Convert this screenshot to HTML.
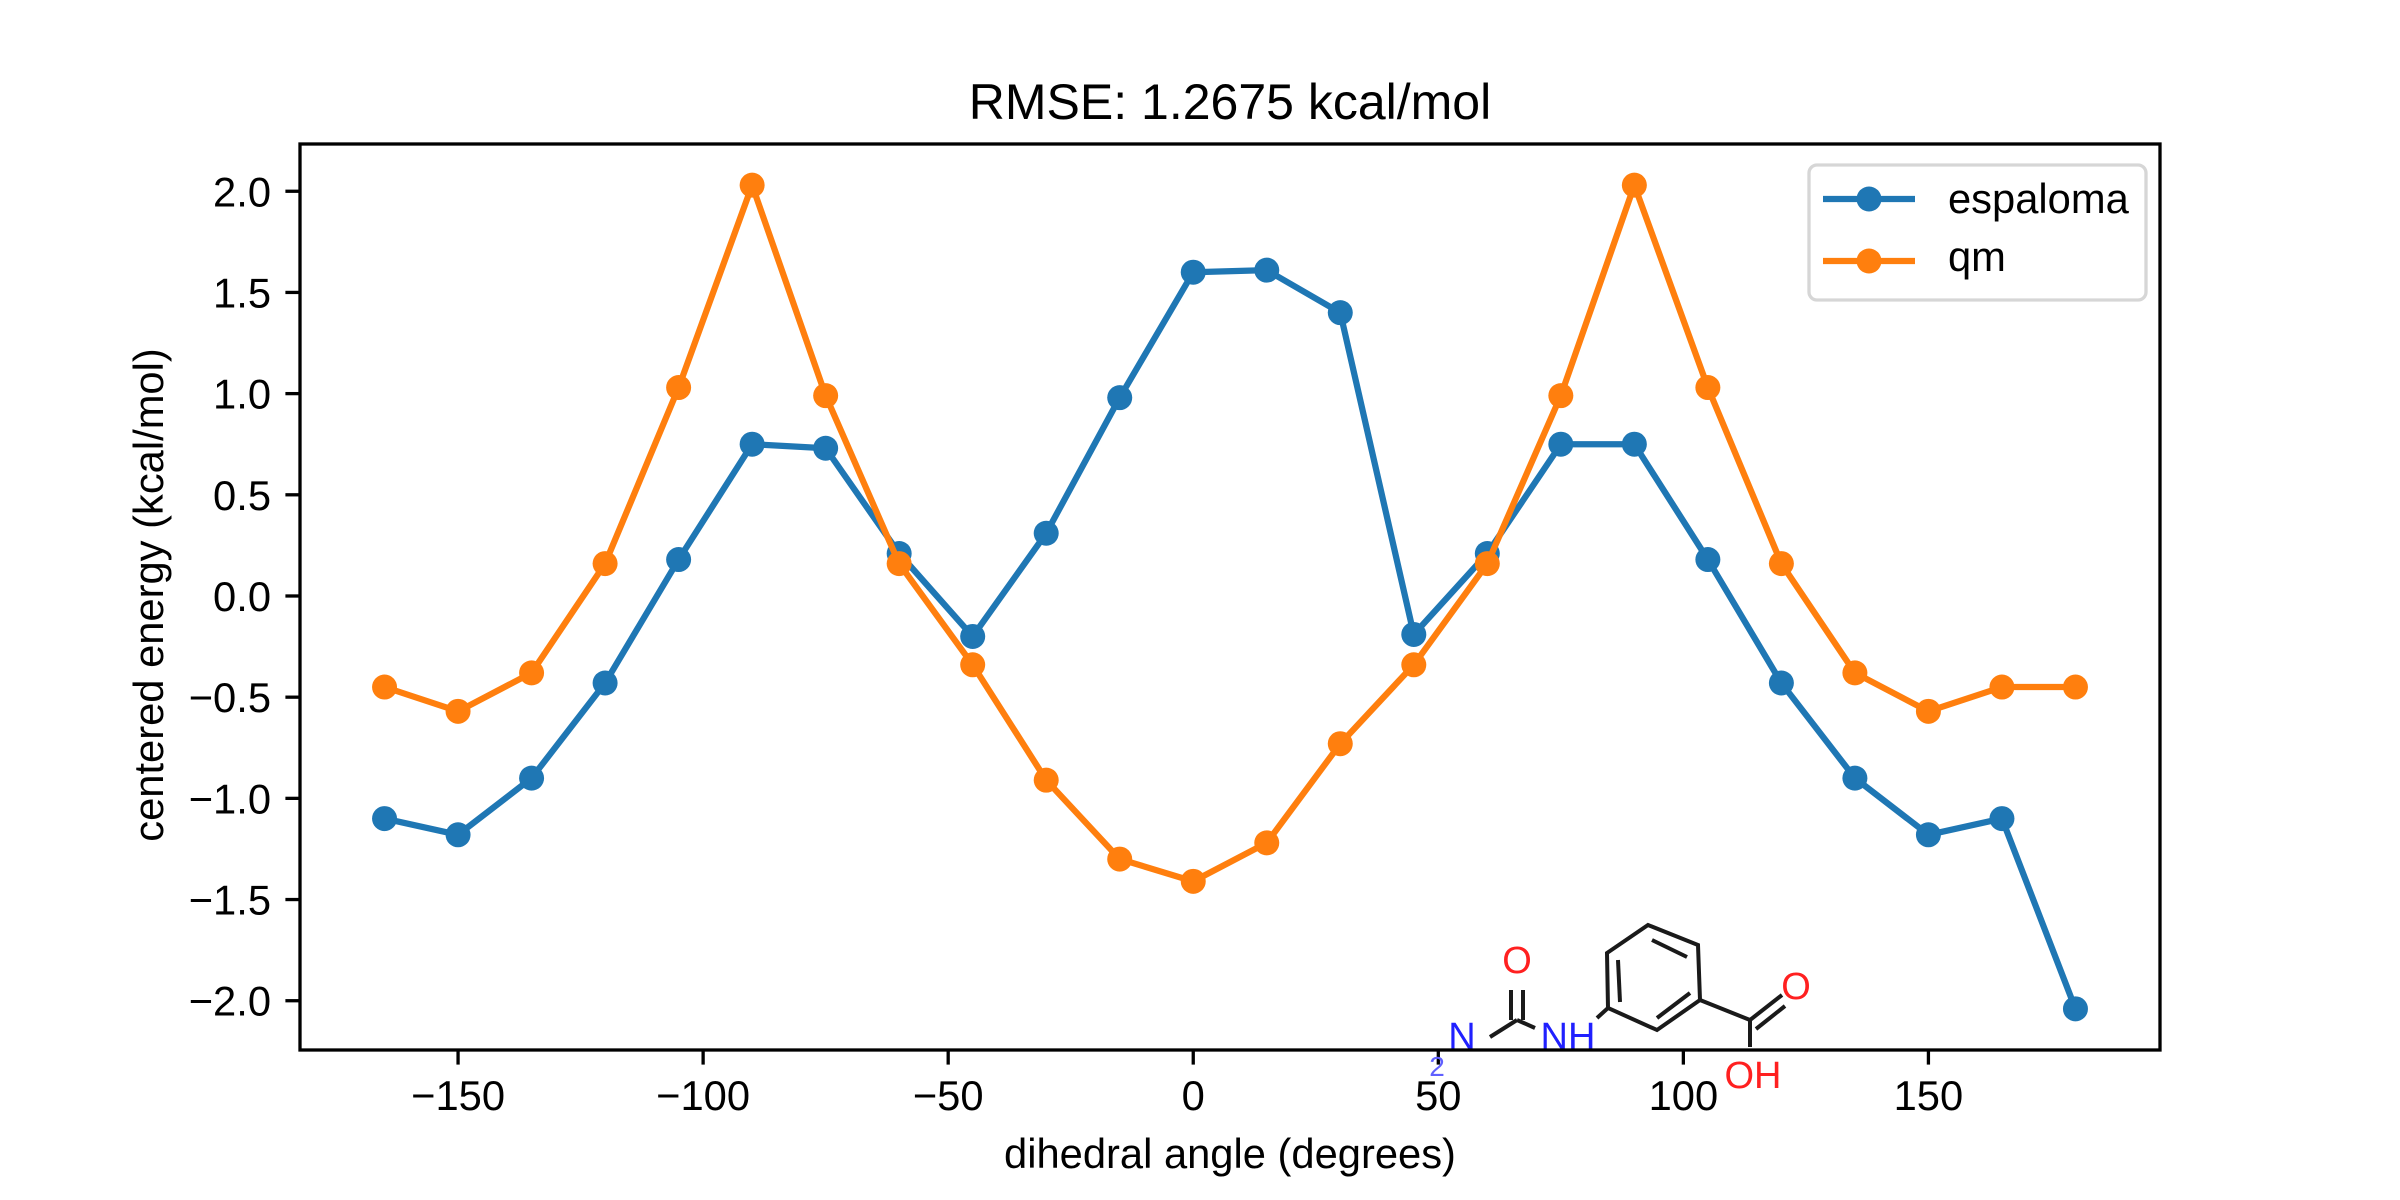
<!DOCTYPE html>
<html>
<head>
<meta charset="utf-8">
<style>
  html,body{margin:0;padding:0;background:#fff;}
  svg{display:block;font-family:"Liberation Sans",Arial,sans-serif;}
</style>
</head>
<body>
<svg id="chart" width="2400" height="1200" viewBox="0 0 2400 1200" xmlns="http://www.w3.org/2000/svg">
  <rect x="0" y="0" width="2400" height="1200" fill="#fff"/>
  <text x="1230" y="119" font-size="50" text-anchor="middle">RMSE: 1.2675 kcal/mol</text>
  <g id="plot"></g>
  <g id="xaxis"></g>
  <g id="yaxis"></g>
  <text x="1230" y="1168" font-size="41.7" text-anchor="middle">dihedral angle (degrees)</text>
  <text x="0" y="0" font-size="41.7" text-anchor="middle" transform="translate(163,595) rotate(-90)">centered energy (kcal/mol)</text>

  <g id="molecule" stroke="#1a1a1a" stroke-width="4" fill="none">
    <polygon points="1648,925 1698,945 1700,1000 1657,1030 1608,1008 1607,953"/>
    <line x1="1652" y1="940" x2="1687" y2="957"/>
    <line x1="1618" y1="960" x2="1620" y2="1002"/>
    <line x1="1657" y1="1018" x2="1690" y2="993"/>
    <line x1="1608" y1="1008" x2="1597" y2="1018"/>
    <line x1="1517" y1="1020" x2="1535" y2="1028"/>
    <line x1="1511" y1="990" x2="1511" y2="1020"/>
    <line x1="1523" y1="990" x2="1523" y2="1020"/>
    <line x1="1490" y1="1037" x2="1517" y2="1020"/>
    <line x1="1700" y1="1000" x2="1750" y2="1020"/>
    <line x1="1750" y1="1020" x2="1782" y2="995"/>
    <line x1="1756" y1="1029" x2="1785" y2="1006"/>
    <line x1="1750" y1="1020" x2="1750" y2="1047"/>
    <g stroke="none" font-size="38">
      <text x="1517" y="973" fill="#ff2020" text-anchor="middle">O</text>
      <text x="1568" y="1049" fill="#2020ff" text-anchor="middle">NH</text>
      <text x="1462" y="1049" fill="#2020ff" text-anchor="middle">N</text>
      <text x="1437" y="1076" fill="#6060ff" font-size="28" text-anchor="middle">2</text>
      <text x="1796" y="999" fill="#ff2020" text-anchor="middle">O</text>
      <text x="1753" y="1088" fill="#ff2020" text-anchor="middle">OH</text>
    </g>
  </g>

  <rect x="300" y="144" width="1860" height="906" fill="none" stroke="#000" stroke-width="3.3"/>

  <g id="legend">
    <rect x="1809" y="165" width="337" height="135" rx="8" fill="#fff" fill-opacity="0.8" stroke="#d6d6d6" stroke-width="3.3"/>
    <line x1="1823" y1="199" x2="1915" y2="199" stroke="#1f77b4" stroke-width="6.25"/>
    <circle cx="1869" cy="199" r="12.5" fill="#1f77b4"/>
    <text x="1948" y="213" font-size="41.7">espaloma</text>
    <line x1="1823" y1="261" x2="1915" y2="261" stroke="#ff7f0e" stroke-width="6.25"/>
    <circle cx="1869" cy="261" r="12.5" fill="#ff7f0e"/>
    <text x="1948" y="271" font-size="41.7">qm</text>
  </g>
</svg>
<script>
const angles = [-165,-150,-135,-120,-105,-90,-75,-60,-45,-30,-15,0,15,30,45,60,75,90,105,120,135,150,165,180];
const espaloma = [-1.10,-1.18,-0.90,-0.43,0.18,0.75,0.73,0.21,-0.20,0.31,0.98,1.60,1.61,1.40,-0.19,0.21,0.75,0.75,0.18,-0.43,-0.90,-1.18,-1.10,-2.04];
const qm = [-0.45,-0.57,-0.38,0.16,1.03,2.03,0.99,0.16,-0.34,-0.91,-1.30,-1.41,-1.22,-0.73,-0.34,0.16,0.99,2.03,1.03,0.16,-0.38,-0.57,-0.45,-0.45];
const xTicks = [-150,-100,-50,0,50,100,150];
const yTicks = [-2.0,-1.5,-1.0,-0.5,0.0,0.5,1.0,1.5,2.0];

const NS = "http://www.w3.org/2000/svg";
const X0 = 300, X1 = 2160, Y0 = 144, Y1 = 1050;
const allX = angles, allY = espaloma.concat(qm);
const xmin0 = Math.min(...allX), xmax0 = Math.max(...allX);
const ymin0 = Math.min(...allY), ymax0 = Math.max(...allY);
const xpad = (xmax0 - xmin0) * 0.05, ypad = (ymax0 - ymin0) * 0.05;
const xmin = xmin0 - xpad, xmax = xmax0 + xpad, ymin = ymin0 - ypad, ymax = ymax0 + ypad;
function xs(v){ return X0 + (v - xmin) / (xmax - xmin) * (X1 - X0); }
function ys(v){ return Y1 - (v - ymin) / (ymax - ymin) * (Y1 - Y0); }
function mk(tag, attrs, parent){
  const el = document.createElementNS(NS, tag);
  for (const k in attrs) el.setAttribute(k, attrs[k]);
  parent.appendChild(el);
  return el;
}
function fmt(v){ const s = v.toFixed(1); return v < 0 ? "\u2212" + s.slice(1) : s; }
function fmtX(v){ return v < 0 ? "\u2212" + String(-v) : String(v); }

const xaxis = document.getElementById('xaxis');
xTicks.forEach(t => {
  const x = xs(t);
  const l = mk('line', {x1:x, y1:Y1, x2:x, y2:Y1+14.6, stroke:'#000', 'stroke-width':3.3}, xaxis);
  
  
  const tx = mk('text', {x:x, y:Y1+60, 'font-size':41.7, 'text-anchor':'middle'}, xaxis);
  tx.textContent = fmtX(t);
  
  
});
const yaxis = document.getElementById('yaxis');
yTicks.forEach(t => {
  const y = ys(t);
  const l = mk('line', {x1:X0-14.6, y1:y, x2:X0, y2:y, stroke:'#000', 'stroke-width':3.3}, yaxis);
  
  
  const tx = mk('text', {x:X0-29, y:y+15, 'font-size':41.7, 'text-anchor':'end'}, yaxis);
  tx.textContent = fmt(t);
  
  
});

const plot = document.getElementById('plot');
function drawSeries(vals, color, name){
  const g = mk('g', {}, plot);
  
  
  const pts = angles.map((a,i) => xs(a).toFixed(2) + ',' + ys(vals[i]).toFixed(2)).join(' ');
  const pl = mk('polyline', {points:pts, fill:'none', stroke:color, 'stroke-width':6.25, 'stroke-linejoin':'round', 'stroke-linecap':'square'}, g);
  
  
  angles.forEach((a,i) => {
    const c = mk('circle', {cx:xs(a), cy:ys(vals[i]), r:12.5, fill:color}, g);
    
    
  });
}
drawSeries(espaloma, '#1f77b4', 'espaloma');
drawSeries(qm, '#ff7f0e', 'qm');
</script>
</body>
</html>
